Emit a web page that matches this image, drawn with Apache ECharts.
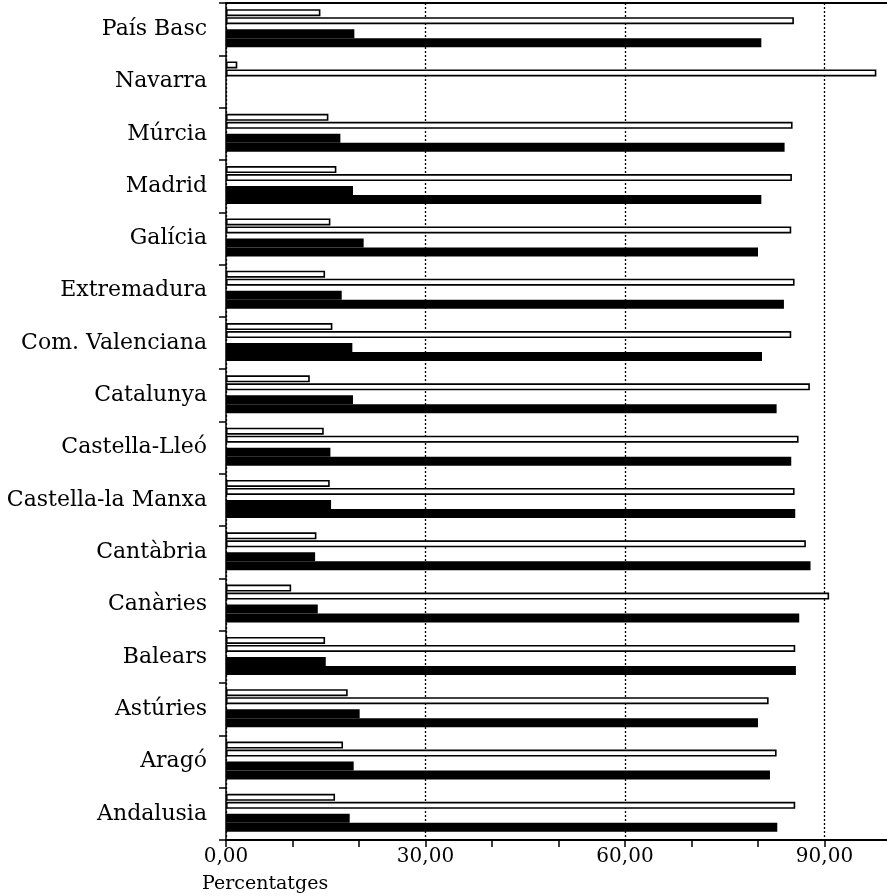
<!DOCTYPE html>
<html>
<head>
<meta charset="utf-8">
<script src="https://cdn.jsdelivr.net/npm/echarts@6/dist/echarts.min.js"></script>
<style>
html,body{margin:0;padding:0;background:#fff;}
#chart{width:887px;height:896px;}
</style>
</head>
<body>
<div id="chart"></div>
<script>
// Categories, bottom to top
const categories = ['Andalusia','Aragó','Astúries','Balears','Canàries','Cantàbria','Castella-la Manxa','Castella-Lleó','Catalunya','Com. Valenciana','Extremadura','Galícia','Madrid','Múrcia','Navarra','País Basc'];
const whiteSmall = [16.4,17.6,18.3,14.9,9.8,13.6,15.6,14.7,12.6,16.0,14.9,15.7,16.6,15.4,1.7,14.2];
const whiteLarge = [85.6,82.8,81.6,85.6,90.7,87.2,85.5,86.1,87.8,85.0,85.5,85.0,85.1,85.2,97.8,85.4];
const blackSmall = [18.6,19.2,20.1,15.0,13.8,13.4,15.8,15.7,19.1,19.0,17.4,20.7,19.1,17.2,0,19.3];
const blackLarge = [82.9,81.8,80.0,85.7,86.2,87.9,85.6,85.0,82.8,80.6,83.9,80.0,80.5,84.0,0,80.5];
const xTickLabels = [0,30,60,90];
const xAxisName = 'Percentatges';

const FONT = 'DejaVu Serif';
const spacer = () => categories.map(() => null);

const chart = echarts.init(document.getElementById('chart'), null, {renderer:'canvas'});
const whiteStyle = {color:'#fff', borderColor:'#000', borderWidth:1.6};
const blackStyle = {color:'#000'};
chart.setOption({
  animation:false,
  backgroundColor:'#fff',
  title:{text:xAxisName, left:202, top:875, padding:0,
    textStyle:{fontFamily:FONT, fontSize:19, fontWeight:'normal', color:'#000'}},
  grid:{left:226, right:-4, top:3, bottom:56, containLabel:false, outerBoundsMode:'none'},
  xAxis:[{
    type:'value', min:0, max:100, interval:10,
    axisLine:{show:true, lineStyle:{color:'#000', width:2}},
    axisTick:{show:true, length:7, lineStyle:{color:'#000', width:1.5}},
    axisLabel:{margin:7, fontFamily:FONT, fontSize:20, color:'#000',
      formatter: v => xTickLabels.indexOf(v) >= 0 ? v.toFixed(2).replace('.', ',') : ''},
    splitLine:{show:false}
  },{
    type:'value', min:0, max:100, interval:30, position:'top',
    axisLine:{show:true, lineStyle:{color:'#000', width:2}},
    axisTick:{show:false}, axisLabel:{show:false},
    splitLine:{show:true, lineStyle:{color:'#000', width:1.3, type:[2,2]}}
  }],
  yAxis:{
    type:'category', data:categories,
    axisLine:{show:true, lineStyle:{color:'#000', width:1.5}},
    axisTick:{show:true, length:7, lineStyle:{color:'#000', width:1.5}},
    axisLabel:{margin:19, fontFamily:FONT, fontSize:22, color:'#000'}
  },
  series:[
    {type:'bar', name:'whiteSmall', data:whiteSmall, barWidth:7, barGap:0, itemStyle:whiteStyle, silent:true},
    {type:'bar', name:'gap1', data:spacer(), barWidth:1, barGap:0, silent:true},
    {type:'bar', name:'whiteLarge', data:whiteLarge, barWidth:7, barGap:0, itemStyle:whiteStyle, silent:true},
    {type:'bar', name:'gap2', data:spacer(), barWidth:5, barGap:0, silent:true},
    {type:'bar', name:'blackSmall', data:blackSmall, barWidth:9, barGap:0, itemStyle:blackStyle, silent:true},
    {type:'bar', name:'blackLarge', data:blackLarge, barWidth:9, barGap:0, itemStyle:blackStyle, silent:true},
    {type:'bar', name:'gap3', data:spacer(), barWidth:2, barGap:0, silent:true}
  ]
});
</script>
</body>
</html>
